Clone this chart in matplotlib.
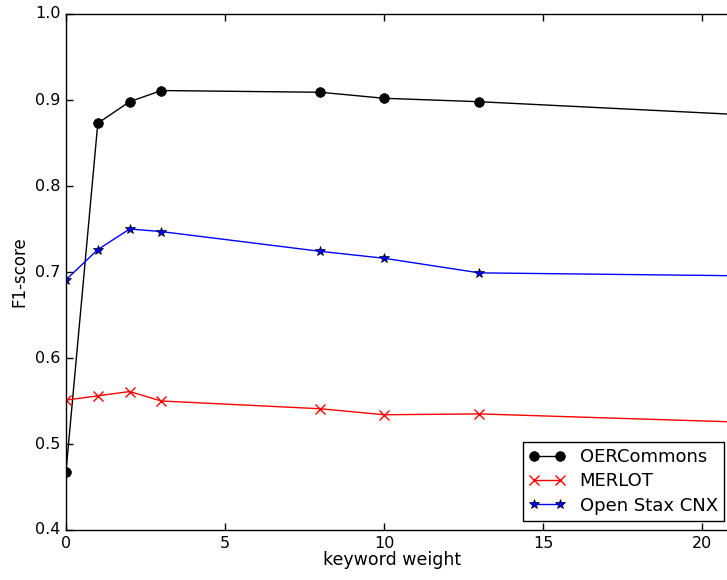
import matplotlib
matplotlib.use("Agg")
import matplotlib.pyplot as plt

plt.style.use("classic")

# keyword weight vs. F1-score for three repositories
weights = [0, 1, 2, 3, 8, 10, 13, 25]
oercommons = [0.468, 0.873, 0.898, 0.911, 0.909, 0.902, 0.898, 0.876]
merlot = [0.551, 0.556, 0.561, 0.550, 0.541, 0.534, 0.535, 0.521]
openstax = [0.691, 0.726, 0.750, 0.747, 0.724, 0.716, 0.699, 0.694]

series_labels = ["OERCommons", "MERLOT", "Open Stax CNX"]
xticks = [0, 5, 10, 15, 20]
yticks = [0.4, 0.5, 0.6, 0.7, 0.8, 0.9, 1.0]

W, H = 727, 580
fig = plt.figure(figsize=(W / 100, H / 100), dpi=100, facecolor="white")

px_per_unit = 31.8
xmax = 21
left_px, bottom_px, top_px = 66, 50, 566
ax = fig.add_axes([left_px / W, bottom_px / H,
                   xmax * px_per_unit / W, (top_px - bottom_px) / H])

ax.plot(weights, oercommons, "k-o", lw=1, ms=7, label=series_labels[0])
ax.plot(weights, merlot, "r-x", lw=1, ms=6.5, mew=1, label=series_labels[1])
ax.plot(weights, openstax, "b-*", lw=1, ms=7, label=series_labels[2])

ax.set_xlim(0, xmax)
ax.set_ylim(0.4, 1.0)
ax.set_xticks(xticks)
ax.set_yticks(yticks)
ax.set_xticklabels([str(t) for t in xticks])
ax.set_yticklabels([f"{t:.1f}" for t in yticks])
ax.tick_params(labelsize=11.5, direction="in", length=5, width=1)

ax.set_xlabel("keyword weight", fontsize=12.5)
ax.set_ylabel("F1-score", fontsize=12)
ax.xaxis.set_label_coords((392 - left_px) / (xmax * px_per_unit), -0.04)

leg = ax.legend(loc="lower right", bbox_to_anchor=(724 / W, 59 / H),
                bbox_transform=fig.transFigure, borderaxespad=0,
                numpoints=2, fontsize=13, fancybox=False, shadow=False,
                handlelength=2.0, labelspacing=0.35, borderpad=0.35)
leg.get_frame().set_edgecolor("black")
leg.get_frame().set_linewidth(1)

fig.savefig("out.png", dpi=100, facecolor="white")
